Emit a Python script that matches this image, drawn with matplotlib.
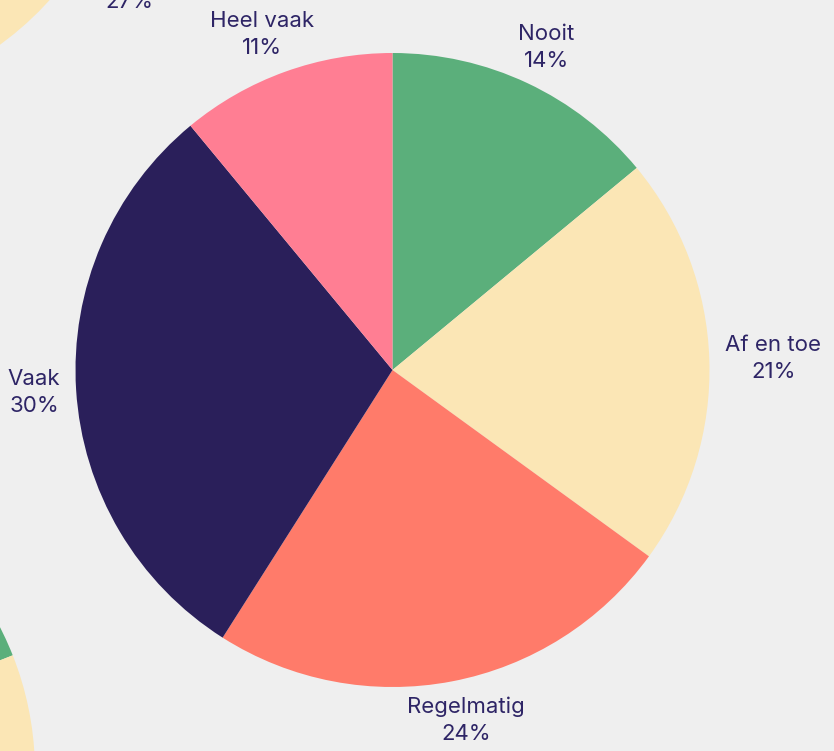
import matplotlib.pyplot as plt
import numpy as np

labels = ["Nooit", "Af en toe", "Regelmatig", "Vaak", "Heel vaak"]
main_values = [14, 21, 24, 30, 11]
# neighbouring charts of the same dashboard, only partly visible
top_left_values = [21, 27, 22, 20, 10]
bottom_left_values = [19, 22, 25, 24, 10]

colors = ["#5BAF7B", "#FBE6B5", "#FF7B6A", "#2A1F5A", "#FF7E93"]
text_color = "#2E2566"
bg = "#EFEFEF"

W, H = 834, 751
R = 317

fig = plt.figure(figsize=(W / 100, H / 100), dpi=100, facecolor=bg)
ax = fig.add_axes([0, 0, 1, 1])
ax.set_facecolor(bg)

pies = [
    (main_values, (392.5, 381)),
    (top_left_values, (-186, 963)),
    (bottom_left_values, (-282, -21)),
]

for vals, c in pies:
    ax.pie(vals, colors=colors, startangle=90, counterclock=False,
           center=c, radius=R, frame=True,
           wedgeprops=dict(linewidth=0, antialiased=True))

ax.set_xlim(0, W)
ax.set_ylim(0, H)
ax.set_aspect("equal")
ax.axis("off")

renderer = fig.canvas.get_renderer()


def add_labels(vals, c):
    total = sum(vals)
    cum = 0
    for lab, v in zip(labels, vals):
        mid = np.deg2rad(90 - (cum + v / 2) / total * 360)
        cum += v
        ux, uy = np.cos(mid), np.sin(mid)
        x = c[0] + 1.05 * R * ux
        y = c[1] + 1.05 * R * uy
        t = ax.text(x, y, f"{lab}\n{v}%", ha="center", va="center",
                    multialignment="center", fontsize=16, family="Inter",
                    color=text_color, linespacing=1.45)
        bb = t.get_window_extent(renderer)
        # push the label box out so it sits just outside the circle
        nx, ny = x + ux * bb.width / 2, y + uy * bb.height / 2
        t.set_position((nx, ny))
        # drop labels of the neighbour charts that fall fully off the canvas
        if (nx + bb.width / 2 < 0 or nx - bb.width / 2 > W
                or ny + bb.height / 2 < 0 or ny - bb.height / 2 > H):
            t.remove()


for vals, c in pies:
    add_labels(vals, c)

fig.savefig("out.png", dpi=100, facecolor=bg)
